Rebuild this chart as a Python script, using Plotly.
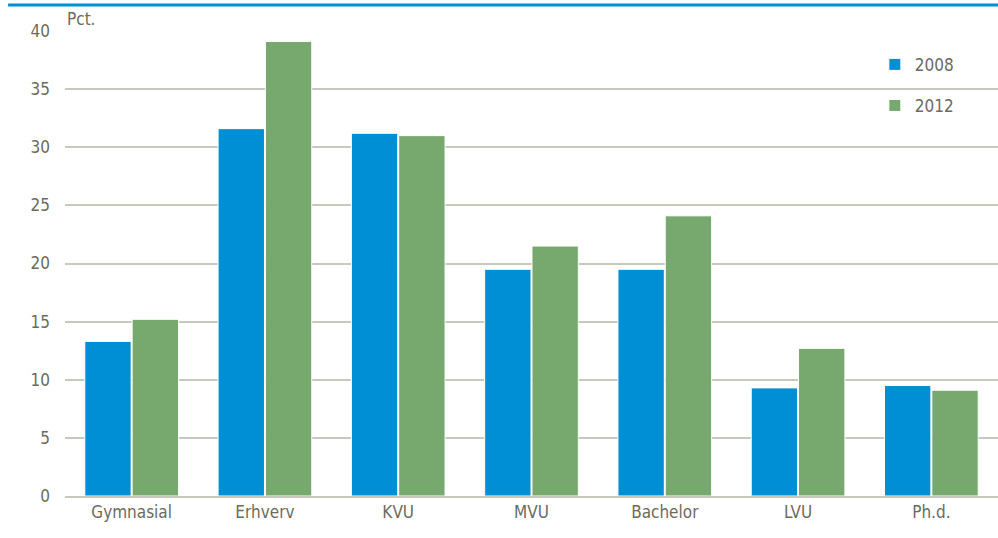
import plotly.graph_objects as go

categories = ["Gymnasial", "Erhverv", "KVU", "MVU", "Bachelor", "LVU", "Ph.d."]
values_2008 = [13.3, 31.6, 31.2, 19.5, 19.5, 9.3, 9.5]
values_2012 = [15.2, 39.1, 31.0, 21.5, 24.1, 12.7, 9.1]
y_ticks = [0, 5, 10, 15, 20, 25, 30, 35, 40]

FONT = "DejaVu Sans Condensed, Liberation Sans Narrow, Liberation Sans, sans-serif"
TXT = "#6b6b5e"
GRID = "#c8c8be"

fig = go.Figure()
fig.add_trace(go.Bar(name="2008", x=categories, y=values_2008,
                     marker=dict(color="#008fd5", line=dict(color="white", width=1)),
                     legendgroup="a"))
fig.add_trace(go.Bar(name="2012", x=categories, y=values_2012,
                     marker=dict(color="#77a96f", line=dict(color="white", width=1)),
                     legendgroup="b"))

fig.update_layout(
    width=998, height=538,
    margin=dict(l=65, r=0, t=31, b=42),
    plot_bgcolor="white", paper_bgcolor="white",
    barmode="group", bargap=0.29, bargroupgap=0.02,
    font=dict(family=FONT, size=17, color=TXT),
    xaxis=dict(showgrid=False, showline=True, linecolor=GRID, linewidth=1.5,
               ticks="", tickfont=dict(size=17, color=TXT)),
    yaxis=dict(range=[0, 40], tickvals=y_ticks, showgrid=True, gridcolor=GRID,
               gridwidth=1.5, zeroline=False, showline=False, ticks="",
               ticklabelstandoff=14, tickfont=dict(size=17, color=TXT)),
    legend=dict(x=0.868, y=0.966, xanchor="left", yanchor="top",
                bgcolor="rgba(0,0,0,0)", traceorder="grouped", tracegroupgap=16,
                font=dict(size=17, color=TXT), itemwidth=30),
    showlegend=True,
)
fig.add_annotation(text="Pct.", xref="paper", yref="paper", x=0.0, y=1.0,
                   xanchor="left", yanchor="bottom", showarrow=False,
                   font=dict(size=17, color=TXT))
fig.add_shape(type="line", xref="paper", yref="paper", x0=-0.061, x1=1.0,
              y0=1.056, y1=1.056, line=dict(color="#008fd5", width=3))
fig.write_html("out.html", config={"displayModeBar": False},
               post_script="document.body.style.margin='0px';document.body.style.overflow='hidden';")
